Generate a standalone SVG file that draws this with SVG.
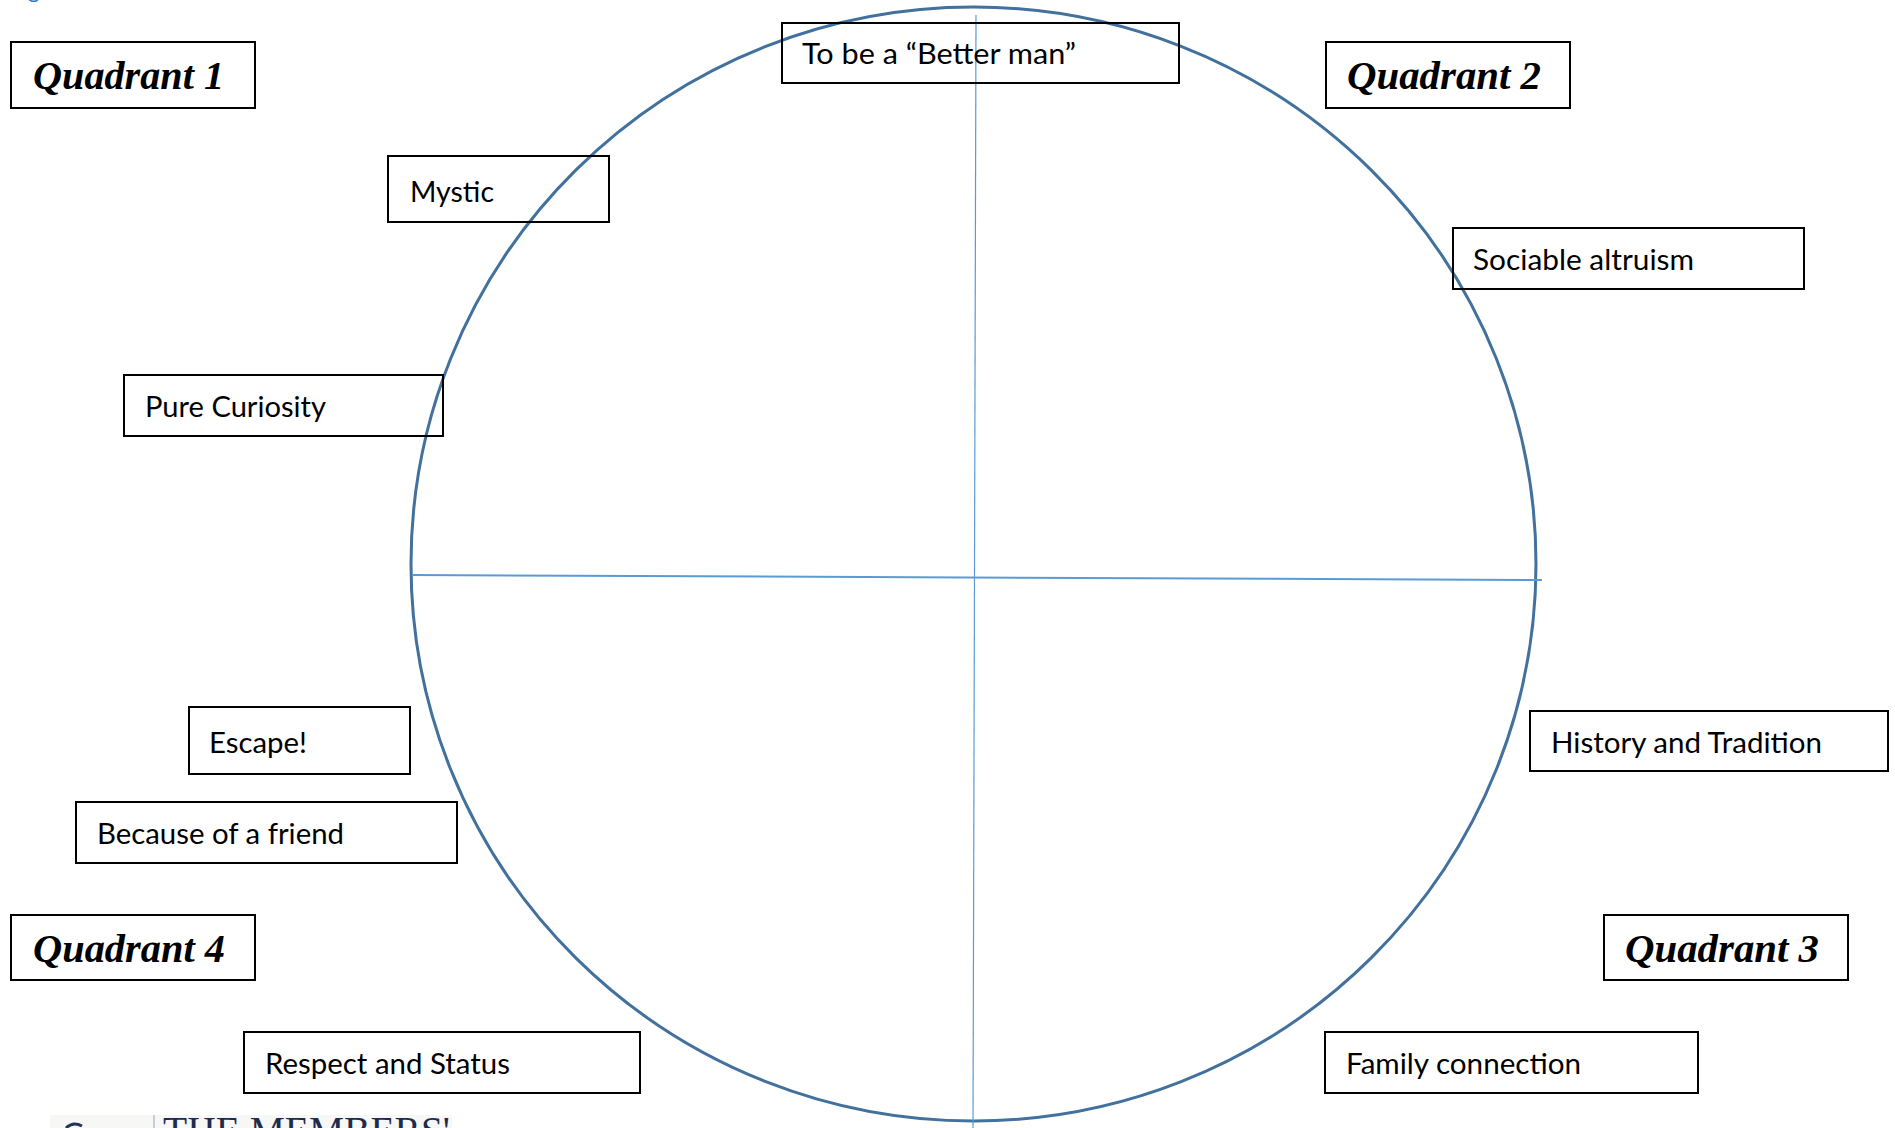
<svg xmlns="http://www.w3.org/2000/svg" width="1895" height="1128" viewBox="0 0 1895 1128">
<style>
.box{fill:#fff;stroke:#000;stroke-width:2}
.lbl{font-family:Lato,"Open Sans",sans-serif;font-size:29px;fill:#000}
.quad{font-family:"Liberation Serif",serif;font-size:39px;font-weight:bold;font-style:italic;fill:#000}
.axis{stroke:#5B9BD5;fill:none}
</style>
<rect width="1895" height="1128" fill="#fff"/>
<text x="28" y="-2" font-family="Lato,sans-serif" font-size="22" fill="#2E75D0">g</text>
<g id="circle">
<ellipse cx="973.5" cy="564" rx="562.5" ry="557" fill="none" stroke="#41719C" stroke-width="3"/>
</g>
<g id="connectors">
<line class="axis" x1="976" y1="15" x2="973" y2="1128" stroke-width="1.2"/>
<line class="axis" x1="412" y1="575" x2="1542" y2="580" stroke-width="2"/>
</g>
<g id="q1"><rect class="box" x="11" y="42" width="244" height="66"/><text class="quad" x="33" y="89" textLength="191" lengthAdjust="spacingAndGlyphs">Quadrant 1</text></g>
<g id="q2"><rect class="box" x="1326" y="42" width="244" height="66"/><text class="quad" x="1347" y="89" textLength="194" lengthAdjust="spacingAndGlyphs">Quadrant 2</text></g>
<g id="q3"><rect class="box" x="1604" y="915" width="244" height="65"/><text class="quad" x="1625" y="962" textLength="194" lengthAdjust="spacingAndGlyphs">Quadrant 3</text></g>
<g id="q4"><rect class="box" x="11" y="915" width="244" height="65"/><text class="quad" x="33" y="962" textLength="192" lengthAdjust="spacingAndGlyphs">Quadrant 4</text></g>
<g id="better"><rect class="box" x="782" y="23" width="397" height="60" fill-opacity="0"/><text class="lbl" x="802" y="64" textLength="274" lengthAdjust="spacingAndGlyphs">To be a “Better man”</text></g>
<g id="mystic"><rect class="box" x="388" y="156" width="221" height="66" fill-opacity="0"/><text class="lbl" x="410" y="202" textLength="84" lengthAdjust="spacingAndGlyphs">Mystic</text></g>
<g id="sociable"><rect class="box" x="1453" y="228" width="351" height="61" fill-opacity="0"/><text class="lbl" x="1473" y="270" textLength="221" lengthAdjust="spacingAndGlyphs">Sociable altruism</text></g>
<g id="curiosity"><rect class="box" x="124" y="375" width="319" height="61" fill-opacity="0"/><text class="lbl" x="145" y="417" textLength="181" lengthAdjust="spacingAndGlyphs">Pure Curiosity</text></g>
<g id="escape"><rect class="box" x="189" y="707" width="221" height="67"/><text class="lbl" x="209" y="753" textLength="98" lengthAdjust="spacingAndGlyphs">Escape!</text></g>
<g id="friend"><rect class="box" x="76" y="802" width="381" height="61"/><text class="lbl" x="97" y="844" textLength="247" lengthAdjust="spacingAndGlyphs">Because of a friend</text></g>
<g id="history"><rect class="box" x="1530" y="711" width="358" height="60" fill-opacity="0"/><text class="lbl" x="1551" y="753" textLength="271" lengthAdjust="spacingAndGlyphs">History and Tradition</text></g>
<g id="respect"><rect class="box" x="244" y="1032" width="396" height="61"/><text class="lbl" x="265" y="1074" textLength="245" lengthAdjust="spacingAndGlyphs">Respect and Status</text></g>
<g id="family"><rect class="box" x="1325" y="1032" width="373" height="61"/><text class="lbl" x="1346" y="1074" textLength="235" lengthAdjust="spacingAndGlyphs">Family connection</text></g>
<g id="footer-logo">
<rect x="50" y="1115" width="402" height="13" fill="#F7F8F5"/>
<path d="M66 1128 Q73 1121 82 1126" fill="none" stroke="#233458" stroke-width="3"/>
<line x1="154" y1="1115" x2="154" y2="1128" stroke="#9AA3B5" stroke-width="1"/>
<text x="163" y="1144" font-family="Liberation Serif,serif" font-size="39" fill="#1F2B4D" textLength="287" lengthAdjust="spacingAndGlyphs">THE MEMBERS'</text>
</g>
</svg>
